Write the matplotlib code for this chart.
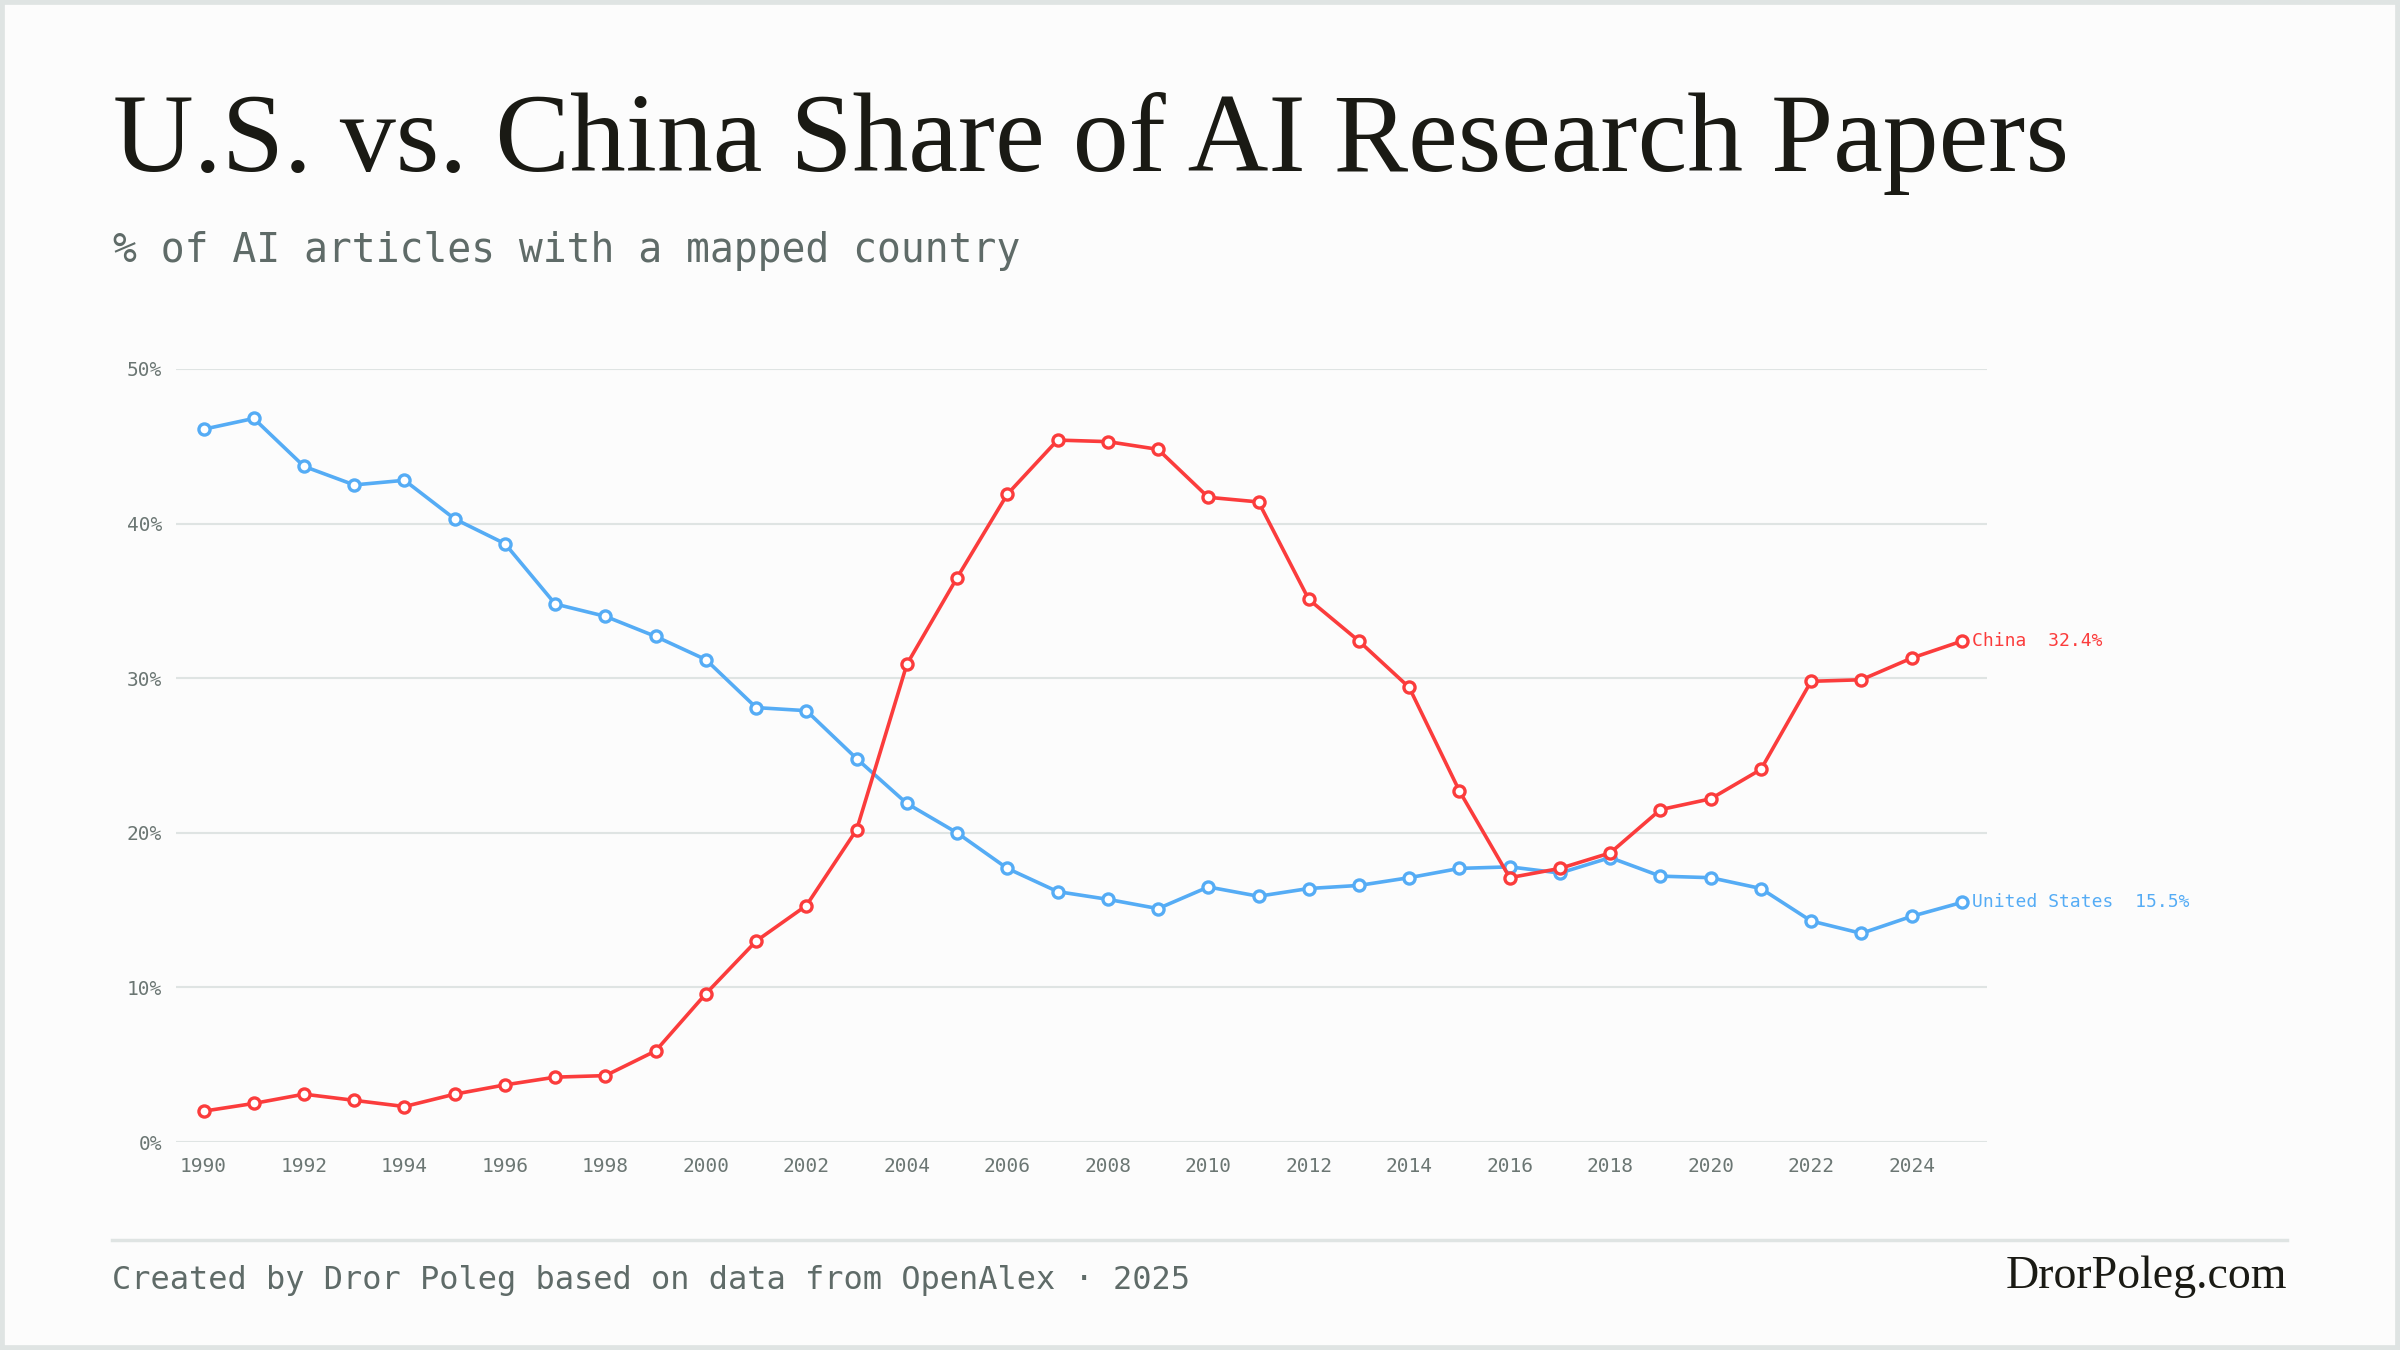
import numpy as np
import matplotlib.pyplot as plt
from matplotlib.patches import Rectangle
from matplotlib.lines import Line2D

years = list(range(1990, 2026))
us_share = [46.1, 46.8, 43.7, 42.5, 42.8, 40.3, 38.7, 34.8, 34.0, 32.7,
            31.2, 28.1, 27.9, 24.8, 21.9, 20.0, 17.7, 16.2, 15.7, 15.1,
            16.5, 15.9, 16.4, 16.6, 17.1, 17.7, 17.8, 17.4, 18.4, 17.2,
            17.1, 16.4, 14.3, 13.5, 14.6, 15.5]
china_share = [2.0, 2.5, 3.1, 2.7, 2.3, 3.1, 3.7, 4.2, 4.3, 5.9,
               9.6, 13.0, 15.3, 20.2, 30.9, 36.5, 41.9, 45.4, 45.3, 44.8,
               41.7, 41.4, 35.1, 32.4, 29.4, 22.7, 17.1, 17.7, 18.7, 21.5,
               22.2, 24.1, 29.8, 29.9, 31.3, 32.4]
y_ticks = [0, 10, 20, 30, 40, 50]
x_ticks = list(range(1990, 2025, 2))

BLUE = '#55acf5'
RED = '#fb3c3c'
GRID = '#dfe4e3'
GRAY = '#5f6b68'
TICK = '#6b7673'
MONO = 'DejaVu Sans Mono'
SERIF = 'Liberation Serif'

fig = plt.figure(figsize=(24, 13.5), dpi=100, facecolor='#fcfcfc')
ax = fig.add_axes([0.0733, 0.154, 0.8279 - 0.0733, 0.7267 - 0.154])
ax.set_facecolor('#fcfcfc')

for v in y_ticks:
    ax.axhline(v, color=GRID, lw=1.5, zorder=1)

def draw(vals, color, label):
    ax.plot(years, vals, color=color, lw=2.6, marker='o', markersize=8,
            markerfacecolor='white', markeredgecolor=color, markeredgewidth=2.4,
            zorder=3, clip_on=False)
    ax.annotate(f"{label}  {vals[-1]:.1f}%", (years[-1], vals[-1]),
                xytext=(7, 0), textcoords='offset points', va='center', ha='left',
                color=color, fontsize=13, family=MONO)

draw(us_share, BLUE, 'United States')
draw(china_share, RED, 'China')

ax.set_xlim(1989.45, 2025.5)
ax.set_ylim(0, 50)
ax.set_xticks(x_ticks)
ax.set_xticklabels([str(x) for x in x_ticks], family=MONO, fontsize=14, color=TICK)
ax.set_yticks(y_ticks)
ax.set_yticklabels([f"{v}%" for v in y_ticks], family=MONO, fontsize=14, color=TICK)
ax.tick_params(axis='both', length=0)
ax.tick_params(axis='x', pad=11)
ax.tick_params(axis='y', pad=10)
for s in ax.spines.values():
    s.set_visible(False)

fig.text(0.047, 0.873, "U.S. vs. China Share of AI Research Papers", family=SERIF,
         fontsize=80.5, color='#1a1a14', va='baseline', ha='left')
fig.text(0.047, 0.806, "% of AI articles with a mapped country", family=MONO,
         fontsize=28.6, color=GRAY, va='baseline', ha='left')

fig.add_artist(Line2D([0.0467, 0.953], [1 - 1240 / 1350] * 2, color=GRID, lw=2.5,
                      transform=fig.transFigure))
fig.text(0.0467, 1 - 1280 / 1350, "Created by Dror Poleg based on data from OpenAlex · 2025",
         family=MONO, fontsize=23, color=GRAY, va='center', ha='left')
fig.text(0.953, 1 - 1277 / 1350, "DrorPoleg.com", family=SERIF, fontsize=33,
         color='#1a1a14', va='center', ha='right')

fig.add_artist(Rectangle((0, 0), 1, 1, fill=False, ec=GRID, lw=7,
                         transform=fig.transFigure))

fig.savefig('out.png', dpi=100, facecolor=fig.get_facecolor())
